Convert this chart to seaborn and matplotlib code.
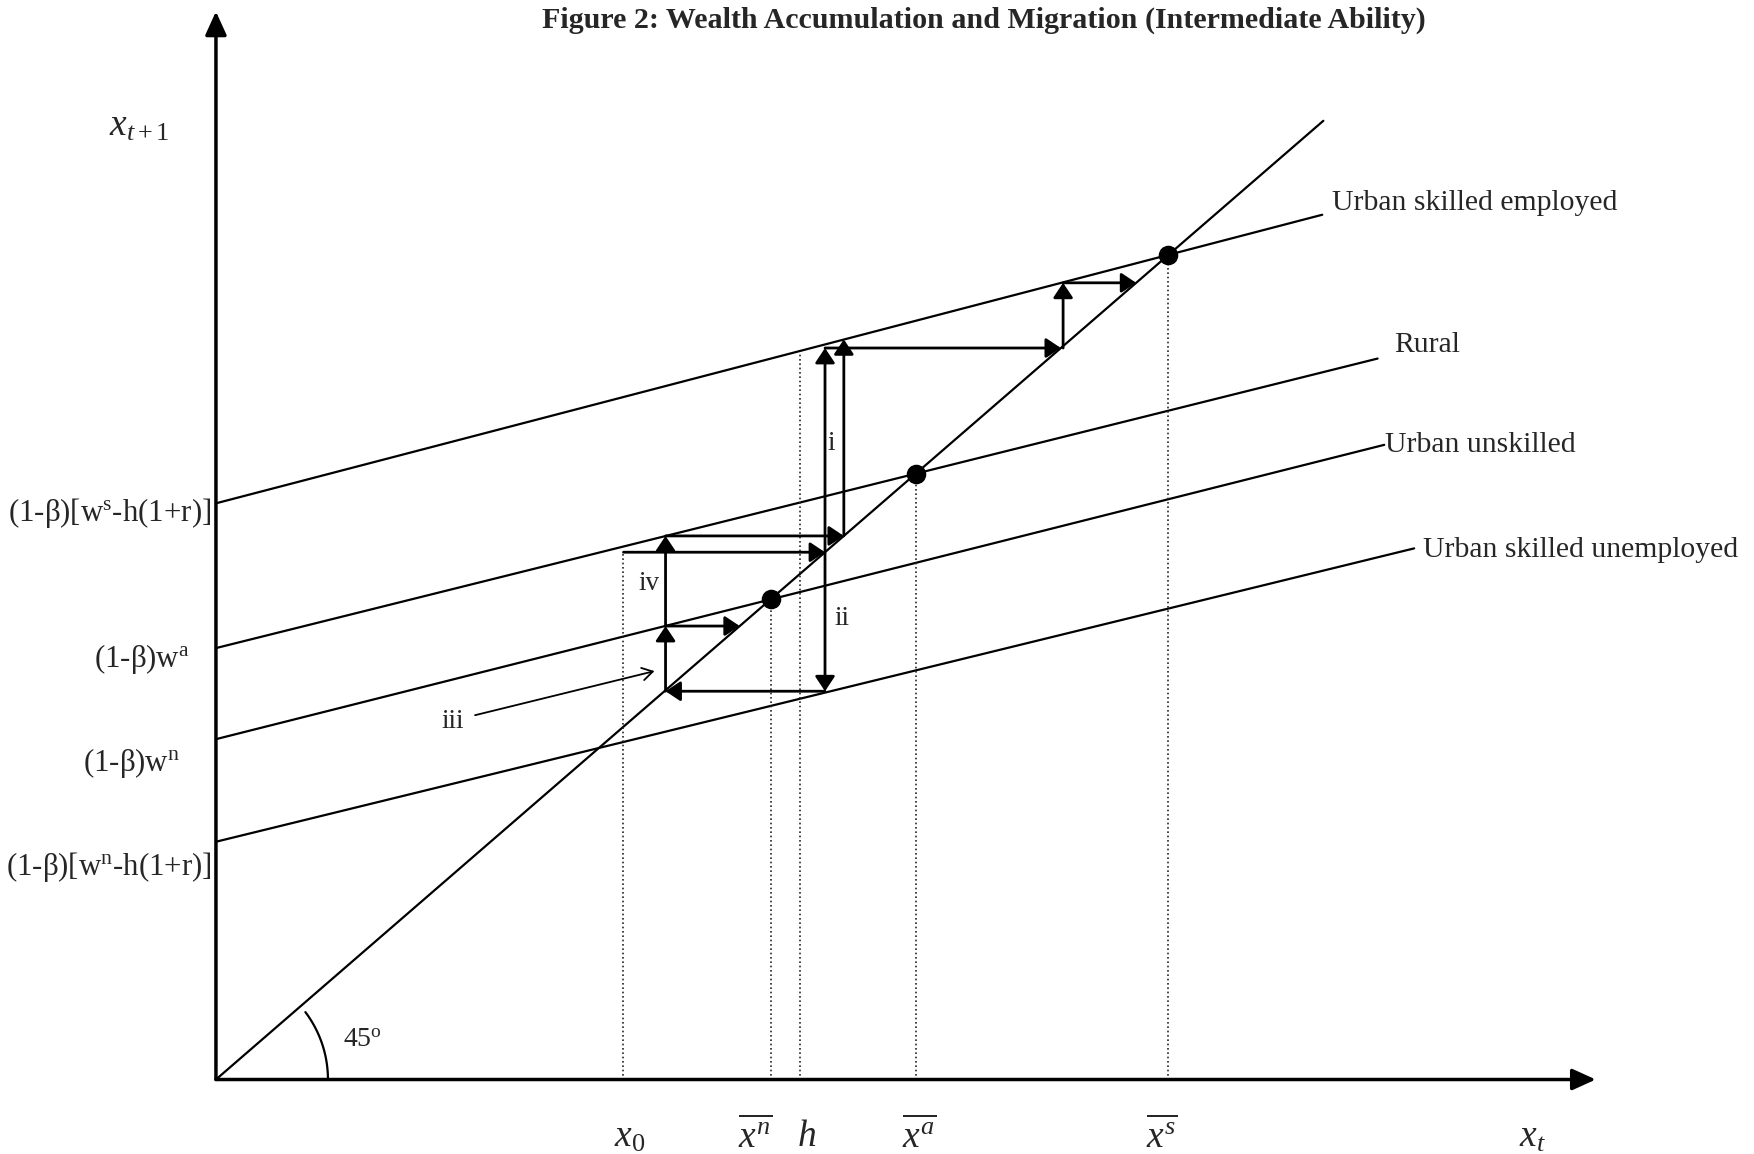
import numpy as np
import pandas as pd
import matplotlib
matplotlib.use('Agg')
import matplotlib.pyplot as plt
import seaborn as sns

# ---------------- data (units: 45-degree line is y = x) ----------------
line_names = ['45 degree', 'Urban skilled employed', 'Rural', 'Urban unskilled', 'Urban skilled unemployed']
line_x_start = [0, 0, 0, 0, 0]
line_y_start = [0, 60.1, 45.0, 35.5, 24.8]
line_x_end = [100.0, 99.9, 104.9, 105.5, 108.2]
line_y_end = [100.0, 90.2, 75.2, 66.2, 55.4]

curve_labels = ['Urban skilled employed', 'Rural', 'Urban unskilled', 'Urban skilled unemployed']
curve_label_x = [100.8, 106.4, 105.6, 109.0]
curve_label_y = [91.4, 76.6, 66.2, 55.2]

steady_states = [50.1, 63.2, 86.0]

guide_x = [36.8, 50.1, 52.7, 63.2, 86.0]
guide_top = [55.0, 50.1, 75.9, 63.2, 86.0]

xtick_pos = [37.4, 48.7, 53.3, 63.5, 85.4, 118.9]
xtick_labels = [r'$x_0$', r'$\overline{x^{n}}$', r'$h$', r'$\overline{x^{a}}$', r'$\overline{x^{s}}$', r'$x_t$']

ytick_pos = [59.1, 43.9, 33.0, 22.2]
ytick_right = [-0.4, -2.4, -3.2, -0.4]
ytick_labels = [r'(1-β)[w$^{\mathrm{s}}$-h(1+r)]', r'(1-β)w$^{\mathrm{a}}$',
                r'(1-β)w$^{\mathrm{n}}$', r'(1-β)[w$^{\mathrm{n}}$-h(1+r)]']

# cobweb dynamics arrows
arrow_x0 = [55.0, 55.0, 40.6, 40.6, 40.6, 40.6, 56.7, 36.8, 55.0, 76.5, 76.5]
arrow_y0 = [40.5, 40.5, 40.5, 47.3, 47.3, 56.7, 56.7, 55.0, 76.3, 76.3, 83.1]
arrow_x1 = [55.0, 40.6, 40.6, 40.6, 47.3, 56.7, 56.7, 55.0, 76.3, 76.5, 83.1]
arrow_y1 = [76.3, 40.5, 47.3, 56.7, 47.3, 56.7, 77.2, 55.0, 76.3, 83.1, 83.1]
arrow_style = ['<|-|>'] + ['-|>'] * 10

phase_labels = ['i', 'ii', 'iii', 'iv']
phase_x = [55.6, 56.5, 21.4, 39.1]
phase_y = [66.3, 48.1, 37.3, 51.7]
pointer_start = (23.4, 38.0)
pointer_end = (39.6, 42.6)

axis_x_tip = 124.6
axis_y_tip = 111.4

title = 'Figure 2: Wealth Accumulation and Migration (Intermediate Ability)'

# ---------------- drawing ----------------
sns.set_theme(style='white')
plt.rcParams['font.family'] = ['Liberation Serif', 'DejaVu Serif']
plt.rcParams['mathtext.fontset'] = 'custom'
plt.rcParams['mathtext.rm'] = 'Liberation Serif'
plt.rcParams['mathtext.it'] = 'Liberation Serif:italic'
plt.rcParams['mathtext.bf'] = 'Liberation Serif:bold'

fig = plt.figure(figsize=(17.54, 11.54), dpi=100)
ax = fig.add_axes([0, 0, 1, 1])
ax.set_xlim(-19.50, 138.89)
ax.set_ylim(-7.77, 112.60)
ax.set_axis_off()

rows = []
for n, xs, ys, xe, ye in zip(line_names, line_x_start, line_y_start, line_x_end, line_y_end):
    rows.append({'line': n, 'x': xs, 'y': ys})
    rows.append({'line': n, 'x': xe, 'y': ye})
df = pd.DataFrame(rows)
sns.lineplot(data=df, x='x', y='y', hue='line', palette=['black'] * len(line_names),
             legend=False, estimator=None, sort=False, lw=1.6, ax=ax)

# axes with arrow heads
axis_style = '-|>,head_length=0.55,head_width=0.25'
ax.annotate('', xy=(axis_x_tip, 0), xytext=(0, 0),
            arrowprops=dict(arrowstyle=axis_style, lw=2.5, color='black',
                            shrinkA=0, shrinkB=0, mutation_scale=26))
ax.annotate('', xy=(0, axis_y_tip), xytext=(0, 0),
            arrowprops=dict(arrowstyle=axis_style, lw=2.5, color='black',
                            shrinkA=0, shrinkB=0, mutation_scale=26))

# dotted guides
ax.vlines(guide_x, 0, guide_top, colors='0.15', linestyles=(0, (1, 1.6)), lw=1.2)

# steady states
sns.scatterplot(x=steady_states, y=steady_states, s=170, color='black',
                edgecolor='black', zorder=6, ax=ax, legend=False)

# cobweb arrows
for x0, y0, x1, y1, st in zip(arrow_x0, arrow_y0, arrow_x1, arrow_y1, arrow_style):
    ax.annotate('', xy=(x1, y1), xytext=(x0, y0),
                arrowprops=dict(arrowstyle=st + ',head_length=0.6,head_width=0.4', lw=2.0,
                                color='black', shrinkA=0, shrinkB=0, mutation_scale=15))

# pointer for iii
ax.annotate('', xy=pointer_end, xytext=pointer_start,
            arrowprops=dict(arrowstyle='->,head_length=0.5,head_width=0.3', lw=1.3,
                            color='black', shrinkA=0, shrinkB=0, mutation_scale=15))

# 45 degree arc (circular in pixel space)
xpx = (1754 / (138.89 + 19.50))
ypx = (1154 / (112.60 + 7.77))
r_px = 112
theta = np.deg2rad(np.linspace(0, 37, 60))
ax.plot(r_px * np.cos(theta) / xpx, r_px * np.sin(theta) / ypx, color='black', lw=1.6)
ax.text(11.5, 4.1, r'45$^{\mathrm{o}}$', fontsize=20, ha='left', va='center')

# texts
for t, x, y in zip(curve_labels, curve_label_x, curve_label_y):
    ax.text(x, y, t, fontsize=21.4, ha='left', va='center')
for t, x, y in zip(phase_labels, phase_x, phase_y):
    ax.text(x, y, t, fontsize=19.5, ha='center', va='center')
for t, x in zip(xtick_labels, xtick_pos):
    ax.text(x, -6.0, t, fontsize=27, ha='center', va='center')
for t, x, y in zip(ytick_labels, ytick_right, ytick_pos):
    ax.text(x, y, t, fontsize=22.2, ha='right', va='center')
ax.text(-6.9, 99.4, r'$x_{t+1}$', fontsize=27, ha='center', va='center')

fig.text(0.561, 0.982, title, fontsize=21.6, fontweight='bold', ha='center', va='center')

fig.savefig('out.png', dpi=100)
